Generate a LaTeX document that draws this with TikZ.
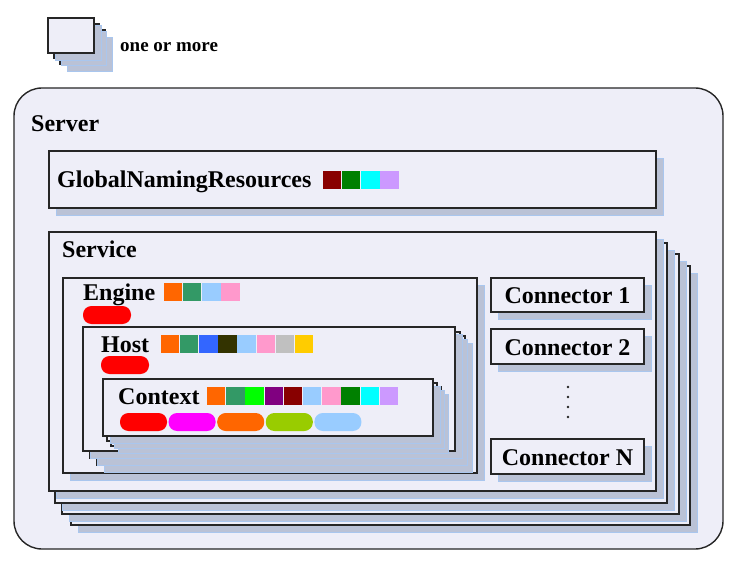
\documentclass[tikz,border=0pt]{standalone}
\usepackage{fontspec}
\setmainfont{Liberation Serif}
\usetikzlibrary{shadows}
\definecolor{boxfill}{HTML}{EEEEF8}
\definecolor{boxline}{HTML}{262626}
\definecolor{shadowc}{HTML}{BAC2D6}
\definecolor{shadowe}{HTML}{A9C6EE}
\definecolor{cOrange}{HTML}{FF6600}
\definecolor{cSea}{HTML}{339966}
\definecolor{cLBlue}{HTML}{99CCFF}
\definecolor{cPink}{HTML}{FF99CC}
\definecolor{cBlue}{HTML}{3366FF}
\definecolor{cOlive}{HTML}{333300}
\definecolor{cSilver}{HTML}{C0C0C0}
\definecolor{cGold}{HTML}{FFCC00}
\definecolor{cLime}{HTML}{00FF00}
\definecolor{cPurple}{HTML}{800080}
\definecolor{cMaroon}{HTML}{880000}
\definecolor{cGreen}{HTML}{008000}
\definecolor{cCyan}{HTML}{00FFFF}
\definecolor{cLilac}{HTML}{CC99FF}
\definecolor{cMagenta}{HTML}{FF00FF}
\definecolor{cYG}{HTML}{99CC00}
\definecolor{cRed}{HTML}{FF0000}
\begin{document}
\begin{tikzpicture}[x=1pt,y=-1pt,
  box/.style={draw=boxline, line width=1.4pt, fill=boxfill,
    drop shadow={shadow xshift=7.5pt, shadow yshift=-7pt, fill=shadowc, draw=shadowe, line width=0.8pt, opacity=1}},
  lbl/.style={anchor=base west, inner sep=0pt, font=\fontsize{24}{28}\selectfont\bfseries},
  clbl/.style={anchor=base, inner sep=0pt, font=\fontsize{24}{28}\selectfont\bfseries},
  pill/.style={rounded corners=8.5pt},
]
\useasboundingbox (0,0) rectangle (731,564);
\fill[white] (0,0) rectangle (731,564);

% legend
\path[box] (60,30) rectangle (105,64);
\path[box] (54,24) rectangle (99,58);
\path[box] (48,18) rectangle (94,53);
\node[anchor=base west, inner sep=0pt, font=\fontsize{19}{22}\selectfont\bfseries] (legend) at (120,52) {one or more};

% server
\path[draw=boxline, line width=1.4pt, fill=boxfill, rounded corners=28pt] (14,88) rectangle (723,549);
\node[lbl] (server) at (31,132) {Server};

% global naming resources
\path[box] (49,151) rectangle (656,208);
\node[lbl] (gnr) at (57,188) {GlobalNamingResources};
\foreach \c [count=\i from 0] in {cMaroon,cGreen,cCyan,cLilac}
  \fill[\c] ({323+19.1*\i},171) rectangle ++(18.3,18);

% service stack
\path[box] (71,266) rectangle (690,525);
\path[box] (62,254) rectangle (679,514);
\path[box] (55,243) rectangle (667,503);
\path[box] (49,232) rectangle (656,491);
\node[lbl] (service) at (62,258) {Service};

% connectors
\path[box] (491,278) rectangle (644,312);
\node[clbl] (con1) at (567.5,303) {Connector 1};
\path[box] (491,329) rectangle (644,364);
\node[clbl] (con2) at (567.5,355) {Connector 2};
\path[box] (491,439) rectangle (644,474);
\node[clbl] (conN) at (567.5,465) {Connector N};
\foreach \y in {387,397,407,417}
  \fill[boxline] (568,\y) circle (1.3);

% engine
\path[box] (63,278) rectangle (477,473);
\node[lbl] (engine) at (83,300) {Engine};
\foreach \c [count=\i from 0] in {cOrange,cSea,cLBlue,cPink}
  \fill[\c] ({164+19.1*\i},283) rectangle ++(18.3,18);
\fill[cRed, pill] (83,306) rectangle (131,324);

% host stack
\path[box] (97,336) rectangle (465,465);
\path[box] (90,332) rectangle (460,458);
\path[box] (83,327) rectangle (455,451);
\node[lbl] (host) at (101,352) {Host};
\foreach \c [count=\i from 0] in {cOrange,cSea,cBlue,cOlive,cLBlue,cPink,cSilver,cGold}
  \fill[\c] ({161+19.1*\i},335) rectangle ++(18.3,18);
\fill[cRed, pill] (101,356) rectangle (149,374);

% context stack
\path[box] (111,387) rectangle (441,446);
\path[box] (107,383) rectangle (437,441);
\path[box] (103,379) rectangle (433,436);
\node[lbl] (context) at (118,404) {Context};
\foreach \c [count=\i from 0] in {cOrange,cSea,cLime,cPurple,cMaroon,cLBlue,cPink,cGreen,cCyan,cLilac}
  \fill[\c] ({207+19.2*\i},387) rectangle ++(18.4,18);
\foreach \c [count=\i from 0] in {cRed,cMagenta,cOrange,cYG,cLBlue}
  \fill[\c, pill] ({120+48.6*\i},413) rectangle ++(47,18);
\end{tikzpicture}
\end{document}
